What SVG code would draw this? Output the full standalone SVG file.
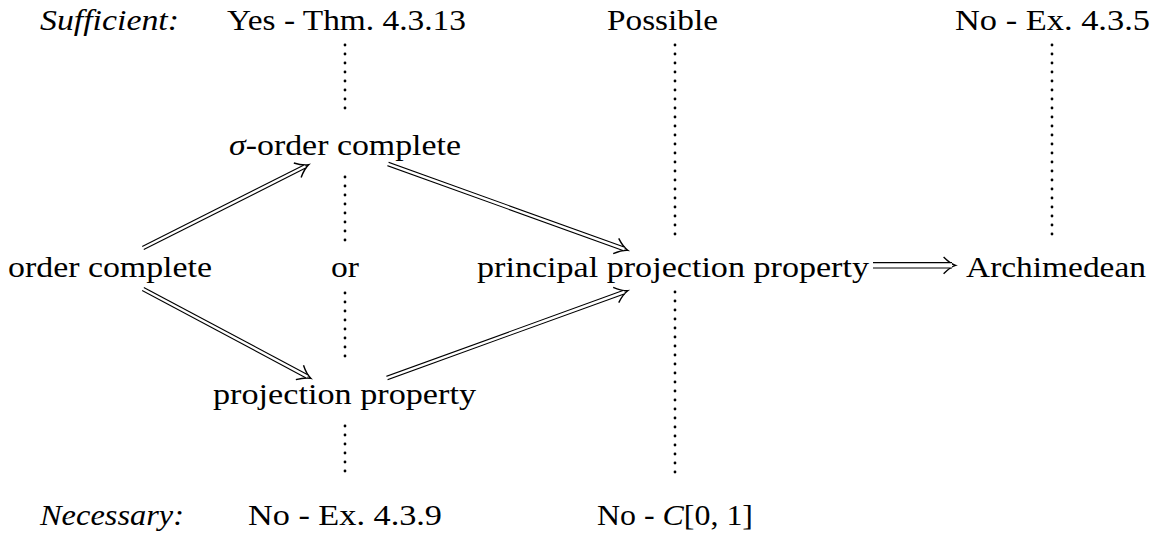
<svg xmlns="http://www.w3.org/2000/svg" width="1156" height="539" viewBox="0 0 1156 539">
<style>
  text { font-family: "Liberation Serif", "DejaVu Serif", serif; font-size: 29px; fill: #000; }
  .it { font-style: italic; }
  .dots { stroke: #000; stroke-width: 2.8; stroke-linecap: round; stroke-dasharray: 0 9; fill: none; }
  .dbl-out { stroke: #000; stroke-width: 4.6; fill: none; }
  .dbl-in { stroke: #fff; stroke-width: 2.4; fill: none; }
  .lng-out { stroke: #000; stroke-width: 6.4; fill: none; }
  .lng-in { stroke: #fff; stroke-width: 4.2; fill: none; }
</style>
<defs>
  <marker id="imp" markerUnits="userSpaceOnUse" markerWidth="20" markerHeight="20" viewBox="-12 -8 16 16" refX="-3" refY="0" orient="auto">
    <path d="M -10 -6.5 Q -4.5 -1.3 0 0 Q -4.5 1.3 -10 6.5" stroke="#000" stroke-width="1.15" fill="none"/>
  </marker>
  <marker id="impL" markerUnits="userSpaceOnUse" markerWidth="24" markerHeight="24" viewBox="-14 -10 18 20" refX="-3" refY="0" orient="auto">
    <path d="M -10 -7 Q -4.5 -1.4 0 0 Q -4.5 1.4 -10 7" stroke="#000" stroke-width="1.15" fill="none"/>
  </marker>
</defs>
<rect width="1156" height="539" fill="#fff"/>

<g id="labels">
  <text class="it" x="40" y="30" textLength="139" lengthAdjust="spacingAndGlyphs">Sufficient:</text>
  <text class="it" x="40" y="525" textLength="144" lengthAdjust="spacingAndGlyphs">Necessary:</text>
</g>

<g id="col-sigma">
  <text x="227" y="30" textLength="239" lengthAdjust="spacingAndGlyphs">Yes - Thm. 4.3.13</text>
  <text x="248" y="525" textLength="194" lengthAdjust="spacingAndGlyphs">No - Ex. 4.3.9</text>
</g>
<g id="col-ppp">
  <text x="607" y="30" textLength="111" lengthAdjust="spacingAndGlyphs">Possible</text>
  <text x="597" y="525" textLength="156" lengthAdjust="spacingAndGlyphs">No - <tspan class="it">C</tspan>[0, 1]</text>
</g>
<g id="col-arch">
  <text x="955" y="30" textLength="195" lengthAdjust="spacingAndGlyphs">No - Ex. 4.3.5</text>
</g>

<g id="node-order-complete">
  <text x="8" y="277" textLength="204" lengthAdjust="spacingAndGlyphs">order complete</text>
</g>
<g id="node-sigma-order-complete">
  <text x="229" y="155" textLength="232" lengthAdjust="spacingAndGlyphs"><tspan class="it">σ</tspan>-order complete</text>
</g>
<g id="node-or">
  <text x="331" y="277" textLength="28" lengthAdjust="spacingAndGlyphs">or</text>
</g>
<g id="node-projection-property">
  <text x="213" y="404" textLength="263" lengthAdjust="spacingAndGlyphs">projection property</text>
</g>
<g id="node-ppp">
  <text x="477" y="277" textLength="392" lengthAdjust="spacingAndGlyphs">principal projection property</text>
</g>
<g id="node-archimedean">
  <text x="966" y="277" textLength="180" lengthAdjust="spacingAndGlyphs">Archimedean</text>
</g>

<g id="connectors">
  <line class="dots" x1="345" y1="45" x2="345" y2="117"/>
  <line class="dots" x1="345" y1="177" x2="345" y2="249"/>
  <line class="dots" x1="345" y1="293" x2="345" y2="365"/>
  <line class="dots" x1="345" y1="426" x2="345" y2="480"/>
  <line class="dots" x1="675" y1="45" x2="675" y2="243"/>
  <line class="dots" x1="675" y1="292" x2="675" y2="481"/>
  <line class="dots" x1="1052" y1="45" x2="1052" y2="243"/>

  <line class="dbl-out" x1="143" y1="248" x2="305.3" y2="166.3" marker-end="url(#imp)"/>
  <line class="dbl-in" x1="142" y1="248.5" x2="305.3" y2="166.3"/>

  <line class="dbl-out" x1="143" y1="289" x2="307.4" y2="376.6" marker-end="url(#imp)"/>
  <line class="dbl-in" x1="142" y1="288.5" x2="307.4" y2="376.6"/>

  <line class="dbl-out" x1="388" y1="164" x2="624.2" y2="249" marker-end="url(#imp)"/>
  <line class="dbl-in" x1="387" y1="163.6" x2="624.2" y2="249"/>

  <line class="dbl-out" x1="387" y1="378" x2="624.2" y2="292" marker-end="url(#imp)"/>
  <line class="dbl-in" x1="386" y1="378.4" x2="624.2" y2="292"/>

  <line class="lng-out" x1="873" y1="265.3" x2="952" y2="265.3" marker-end="url(#impL)"/>
  <line class="lng-in" x1="872" y1="265.3" x2="952" y2="265.3"/>
</g>
</svg>
